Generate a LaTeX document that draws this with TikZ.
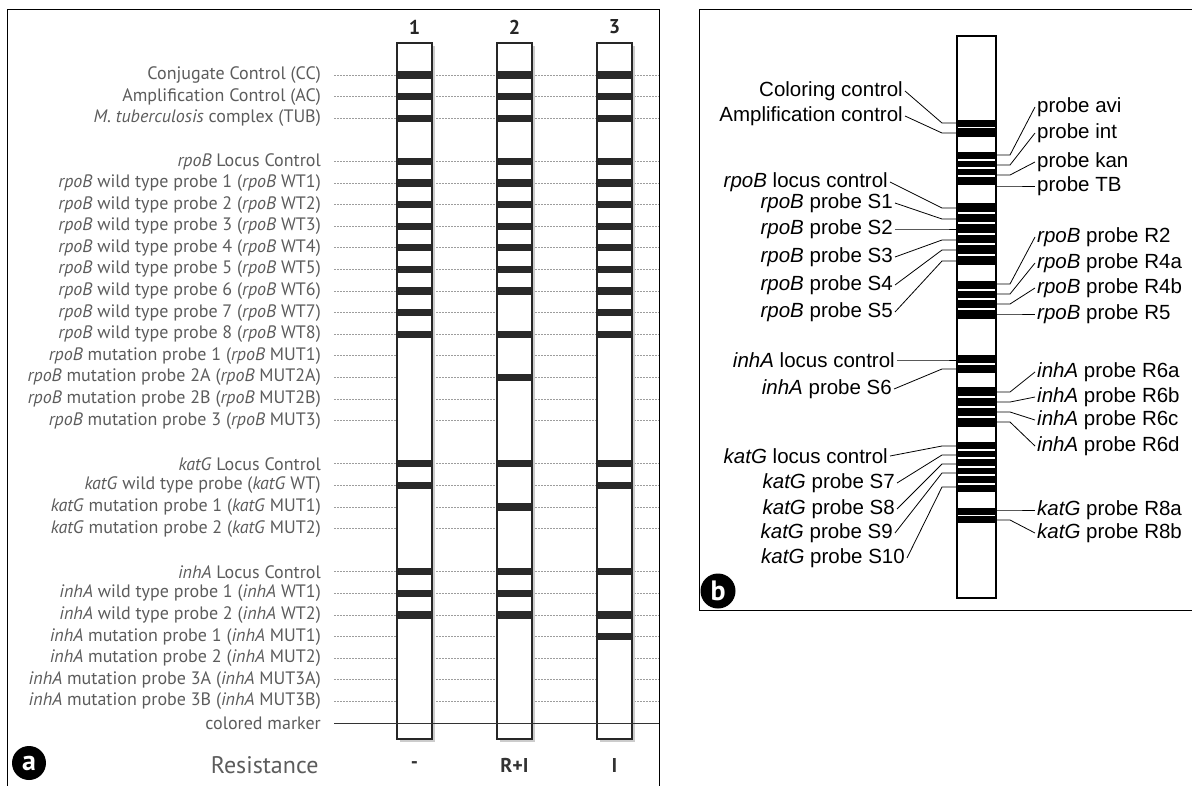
\documentclass[tikz,border=0pt]{standalone}
\usepackage{fontspec}
\setmainfont{PT Sans}
\newfontfamily\arialfont{Liberation Sans}
\usetikzlibrary{positioning}
\definecolor{labgray}{gray}{0.36}
\definecolor{bandgray}{gray}{0.16}
\tikzset{
  lablA/.style={anchor=east, text=labgray, inner sep=1pt, font=\fontsize{18}{19}\selectfont},
  guide/.style={labgray!60, dash pattern=on 1.6pt off 1.4pt, line width=0.7pt},
  stripA/.style={draw=black!85, line width=1.8pt, fill=white},
  bandA/.style={fill=bandgray},
  lablB/.style={inner sep=2pt, font=\arialfont\fontsize{20.5}{21}\selectfont},
  linkB/.style={line width=0.8pt},
  badge/.style={circle, fill=black, text=white, inner sep=0pt, font=\fontsize{28}{28}\selectfont\bfseries}
}
\begin{document}
\begin{tikzpicture}[x=1pt,y=-1pt]
 \useasboundingbox (0,0) rectangle (1192,785);
 % panel a
 \begin{scope}
  \draw[line width=1pt] (7,795) -- (7,9) -- (659,9) -- (659,795);
  \foreach \i/\txt in {0/{Conjugate Control (CC)}, 1/{Amplification Control (AC)},
    2/{\textit{M. tuberculosis} complex (TUB)}, 4/{\textit{rpoB} Locus Control},
    5/{\textit{rpoB} wild type probe 1 (\textit{rpoB} WT1)}, 6/{\textit{rpoB} wild type probe 2 (\textit{rpoB} WT2)},
    7/{\textit{rpoB} wild type probe 3 (\textit{rpoB} WT3)}, 8/{\textit{rpoB} wild type probe 4 (\textit{rpoB} WT4)},
    9/{\textit{rpoB} wild type probe 5 (\textit{rpoB} WT5)}, 10/{\textit{rpoB} wild type probe 6 (\textit{rpoB} WT6)},
    11/{\textit{rpoB} wild type probe 7 (\textit{rpoB} WT7)}, 12/{\textit{rpoB} wild type probe 8 (\textit{rpoB} WT8)},
    13/{\textit{rpoB} mutation probe 1 (\textit{rpoB} MUT1)}, 14/{\textit{rpoB} mutation probe 2A (\textit{rpoB} MUT2A)},
    15/{\textit{rpoB} mutation probe 2B (\textit{rpoB} MUT2B)}, 16/{\textit{rpoB} mutation probe 3 (\textit{rpoB} MUT3)},
    18/{\textit{katG} Locus Control}, 19/{\textit{katG} wild type probe (\textit{katG} WT)},
    20/{\textit{katG} mutation probe 1 (\textit{katG} MUT1)}, 21/{\textit{katG} mutation probe 2 (\textit{katG} MUT2)},
    23/{\textit{inhA} Locus Control}, 24/{\textit{inhA} wild type probe 1 (\textit{inhA} WT1)},
    25/{\textit{inhA} wild type probe 2 (\textit{inhA} WT2)}, 26/{\textit{inhA} mutation probe 1 (\textit{inhA} MUT1)},
    27/{\textit{inhA} mutation probe 2 (\textit{inhA} MUT2)}, 28/{\textit{inhA} mutation probe 3A (\textit{inhA} MUT3A)},
    29/{\textit{inhA} mutation probe 3B (\textit{inhA} MUT3B)}}{
   \node[lablA] (la\i) at (322,75+21.6*\i) {\txt};
   \coordinate (ga\i) at (659,75+21.6*\i);
   \draw[guide] (la\i.east) ++(12,0) -- (ga\i);
  }
  \node[lablA] (la30) at (322,723) {colored marker};
  \coordinate (ga30) at (659,723);
  % strips
  \foreach \n/\cx in {1/414.5, 2/514.5, 3/614.5}{
   \fill[black!20] (\cx-15,46) rectangle (\cx+20.5,742);
   \draw[stripA] (\cx-17.5,43) rectangle (\cx+17.5,739);
   \node[font=\fontsize{20}{20}\selectfont\bfseries, text=black!85] (hd\n) at (\cx,27) {\n};
  }
  \foreach \i in {0,1,2,4,5,6,7,8,9,10,11,12,18,19,23,24,25}
   \fill[bandA] (397.8,75+21.6*\i-3.6) rectangle (431.2,75+21.6*\i+3.6);
  \foreach \i in {0,1,2,4,5,6,7,8,9,10,12,14,18,20,23,24,25}
   \fill[bandA] (497.8,75+21.6*\i-3.6) rectangle (531.2,75+21.6*\i+3.6);
  \foreach \i in {0,1,2,4,5,6,7,8,9,10,11,12,18,19,23,25,26}
   \fill[bandA] (597.8,75+21.6*\i-3.6) rectangle (631.2,75+21.6*\i+3.6);
  \draw[line width=0.9pt, black!80] (la30.east) ++(12,0) -- (ga30);
  % resistance row
  \node[anchor=east, text=labgray, font=\fontsize{24}{24}\selectfont] (res) at (322,765) {Resistance};
  \node[font=\fontsize{20}{20}\selectfont\bfseries, text=black!80] (rs1) at (414.5,765) {-};
  \node[font=\fontsize{20}{20}\selectfont\bfseries, text=black!80] (rs2) at (514.5,765) {R+I};
  \node[font=\fontsize{20}{20}\selectfont\bfseries, text=black!80] (rs3) at (614.5,765) {I};
  \node[badge, minimum size=34pt] (bda) at (29,763) {a};
 \end{scope}
 % panel b
 \begin{scope}
  \draw[line width=1pt] (1200,9) -- (699,9) -- (699,610) -- (1200,610);
  \draw[line width=1.2pt, fill=white] (957,36) rectangle (996,598);
  \foreach \t/\b/\s in {120/137/{127.5}, 152/185/{160,168,176}, 203/265/{213,223,234,244,255},
    281/319/{290,299,309}, 355/373/{364}, 387/427/{397,407,417},
    442/492/{450,458,467,475,484}, 508/523/{515.5}}{
   \fill (957,\t) rectangle (996,\b);
   \foreach \y in \s \draw[white, line width=1.3pt] (958,\y) -- (995,\y);
  }
  % left labels
  \foreach \nm/\lx/\ly/\by/\txt in {cc/905/91/123/{Coloring control}, ac/905/116/133/{Amplification control},
    rlc/890/182/208/{\textit{rpoB} locus control}, s1/895/203/219/{\textit{rpoB} probe S1},
    s2/895/229/229/{\textit{rpoB} probe S2}, s3/895/257/240/{\textit{rpoB} probe S3},
    s4/895/285/250/{\textit{rpoB} probe S4}, s5/895/312/261/{\textit{rpoB} probe S5},
    ilc/897/360/360/{\textit{inhA} locus control}, s6/894/389/369/{\textit{inhA} probe S6},
    klc/890/456/446/{\textit{katG} locus control}, s7/897/483/455/{\textit{katG} probe S7},
    s8/897/509/464/{\textit{katG} probe S8}, s9/895/533/473/{\textit{katG} probe S9},
    s10/907/558/487/{\textit{katG} probe S10}}{
   \node[lablB, anchor=east] (lb\nm) at (\lx,\ly) {\txt};
   \coordinate (eb\nm) at (957,\by);
   \draw[linkB] (lb\nm.east) -- ([xshift=-15pt]eb\nm) -- (eb\nm);
  }
  % right labels
  \foreach \nm/\ly/\by/\txt in {avi/107/155/{probe avi}, int/133/165/{probe int},
    kan/162/175/{probe kan}, tb/186/186/{probe TB},
    r2/237/284/{\textit{rpoB} probe R2}, r4a/263/294/{\textit{rpoB} probe R4a},
    r4b/288/304/{\textit{rpoB} probe R4b}, r5/314/314/{\textit{rpoB} probe R5},
    r6a/372/392/{\textit{inhA} probe R6a}, r6b/397/402/{\textit{inhA} probe R6b},
    r6c/420/412/{\textit{inhA} probe R6c}, r6d/446/422/{\textit{inhA} probe R6d},
    r8a/510/510/{\textit{katG} probe R8a}, r8b/533/520/{\textit{katG} probe R8b}}{
   \node[lablB, anchor=west] (rb\nm) at (1035,\ly) {\txt};
   \coordinate (wb\nm) at (996,\by);
   \draw[linkB] (wb\nm) -- ([xshift=14pt]wb\nm) -- (rb\nm.west);
  }
  \node[badge, minimum size=35pt] (bdb) at (718,591) {b};
 \end{scope}
\end{tikzpicture}
\end{document}
